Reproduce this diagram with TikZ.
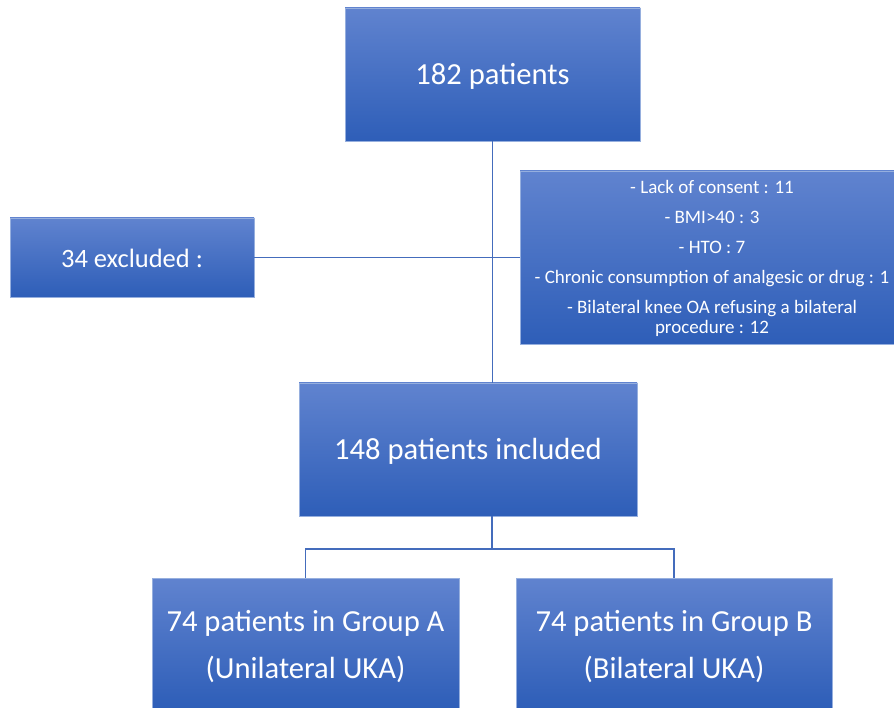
\documentclass[tikz,border=0pt]{standalone}
\usepackage{fontspec}
\setmainfont{Carlito}
\definecolor{boxtop}{RGB}{96,131,207}
\definecolor{boxbot}{RGB}{46,94,184}
\definecolor{boxedge}{RGB}{150,175,222}
\definecolor{linkc}{RGB}{68,108,188}
\begin{document}
\begin{tikzpicture}[x=1pt,y=-1pt,
  box/.style={rectangle, top color=boxtop, bottom color=boxbot, draw=boxedge, line width=0.6pt,
    inner sep=0pt},
  label text/.style={text=white, align=center, inner sep=0pt},
  bigtext/.style={label text, font=\fontsize{30.6}{47}\selectfont},
  midtext/.style={label text, font=\fontsize{26.5}{32}\selectfont},
  smalltext/.style={label text, font=\fontsize{19}{20}\selectfont},
  link/.style={draw=linkc, line width=1.1pt}]
\useasboundingbox (0,0) rectangle (894,708);
\fill[white] (0,0) rectangle (894,708);
% boxes
\node[box, minimum width=295, minimum height=133] (top) at (492.5,74.5) {};
\node[box, minimum width=244, minimum height=79] (excl) at (132,257.5) {};
\node[box, minimum width=374, minimum height=173] (reasons) at (707,257.5) {};
\node[box, minimum width=338, minimum height=133] (incl) at (468,449.5) {};
\node[box, minimum width=307, minimum height=130] (ga) at (305.5,643) {};
\node[box, minimum width=316, minimum height=130] (gb) at (674,643) {};
% texts
\node[bigtext] (toptext) at (492.5,76.5) {182 patients};
\node[midtext] (excltext) at (132,258.5) {34 excluded :};
\node[smalltext] (reasontext) at (712,258.5)
  {- Lack of consent : 11\\[10pt]- BMI>40 : 3\\[10pt]- HTO : 7\\[10pt]- Chronic consumption of analgesic or drug : 1\\[10pt]- Bilateral knee OA refusing a bilateral\\procedure : 12};
\node[bigtext] (incltext) at (468,451.5) {148 patients included};
\node[bigtext] (gatext) at (305.5,647) {74 patients in Group A\\(Unilateral UKA)};
\node[bigtext] (gbtext) at (674,647) {74 patients in Group B\\(Bilateral UKA)};
% connectors
\coordinate (j) at (492,549);
\draw[link] (top.south) -- (top.south |- incl.north);
\draw[link] (excl.east) -- (reasons.west);
\draw[link] (incl.south -| j) -- (j);
\draw[link] (ga.north) -- (ga.north |- j) -- (gb.north |- j) -- (gb.north);
\end{tikzpicture}
\end{document}
